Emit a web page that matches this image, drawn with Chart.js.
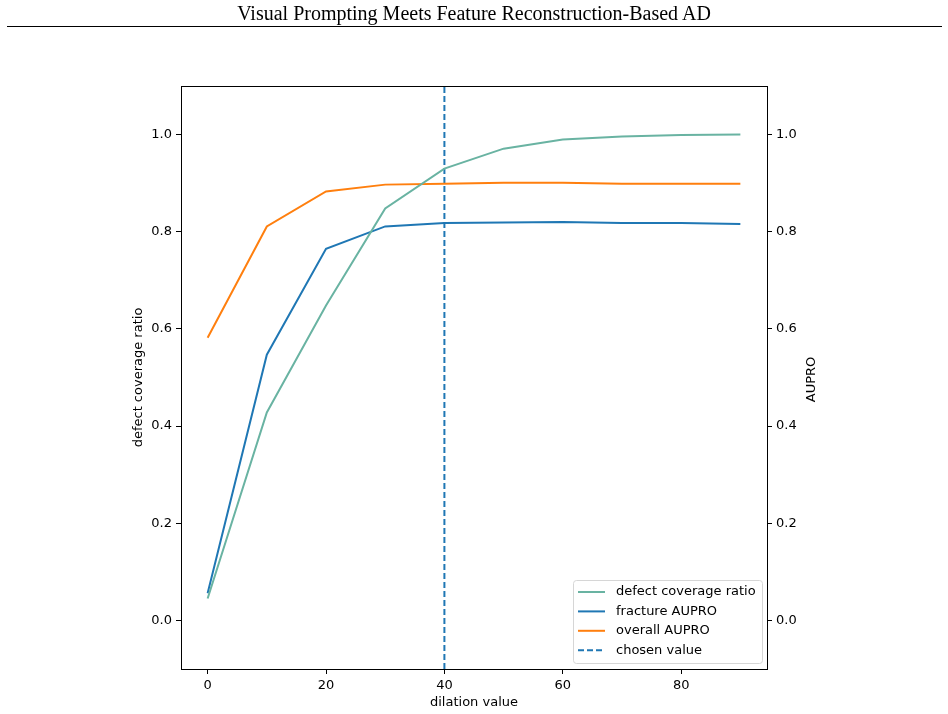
<!DOCTYPE html>
<html>
<head>
<meta charset="utf-8">
<script src="https://cdn.jsdelivr.net/npm/chart.js@4.4.1/dist/chart.umd.min.js"></script>
<style>
    html, body { margin: 0; padding: 0; background: #fff; }
    #wrap { position: relative; width: 948px; height: 714px; }
    #title {
        position: absolute; left: 0; top: 2px; width: 948px; text-align: center;
        font-family: "Liberation Serif", "Times New Roman", serif; font-size: 20px; color: #000;
    }
    #rule { position: absolute; left: 7px; top: 26px; width: 935px; height: 0; border-top: 1.5px solid #000; }
    #chart { position: absolute; left: 0; top: 0; }
</style>
</head>
<body>
<div id="wrap">
    <canvas id="chart" width="948" height="714"></canvas>
    <div id="title">Visual Prompting Meets Feature Reconstruction-Based AD</div>
    <div id="rule"></div>
</div>
<script>
    "use strict";

    // Data
    const dilation = [0, 10, 20, 30, 40, 50, 60, 70, 80, 90];
    const defectCoverage = [0.045, 0.428, 0.648, 0.848, 0.930, 0.971, 0.990, 0.996, 0.999, 1.000];
    const fractureAupro = [0.056, 0.547, 0.765, 0.811, 0.818, 0.819, 0.820, 0.818, 0.818, 0.816];
    const overallAupro = [0.582, 0.811, 0.883, 0.897, 0.899, 0.901, 0.901, 0.899, 0.899, 0.899];
    const chosenValue = 40;
    const xTicks = [0, 20, 40, 60, 80];
    const yTicks = [0, 0.2, 0.4, 0.6, 0.8, 1.0];

    const FONT = "'DejaVu Sans', sans-serif";
    const FSIZE = 13;

    function pts(ys) {
        return dilation.map((x, i) => ({ x: x, y: ys[i] }));
    }

    // box round the plot area + right axis label (reads bottom to top, like matplotlib)
    const frame = {
        id: 'frame',
        afterDatasetsDraw(chart) {
            const a = chart.chartArea, ctx = chart.ctx;
            ctx.save();
            ctx.strokeStyle = '#000';
            ctx.lineWidth = 1;
            ctx.strokeRect(a.left + 0.5, a.top + 0.5, a.right - a.left, a.bottom - a.top);
            ctx.translate(812, (a.top + a.bottom) / 2 + 2);
            ctx.rotate(-Math.PI / 2);
            ctx.font = FSIZE + 'px ' + FONT;
            ctx.fillStyle = '#000';
            ctx.textAlign = 'center';
            ctx.textBaseline = 'middle';
            ctx.fillText('AUPRO', 0, 0);
            ctx.restore();
        }
    };

    // matplotlib style legend, lower right
    const mplLegend = {
        id: 'mplLegend',
        afterDraw(chart) {
            const a = chart.chartArea, ctx = chart.ctx;
            const w = 189, h = 83;
            const x0 = a.right - 5 - w, y0 = a.bottom - 6 - h;
            ctx.save();
            ctx.beginPath();
            ctx.roundRect(x0 + 0.5, y0 + 0.5, w, h, 3);
            ctx.fillStyle = 'rgba(255,255,255,0.8)';
            ctx.fill();
            ctx.strokeStyle = '#d6d6d6';
            ctx.lineWidth = 1;
            ctx.stroke();
            ctx.font = FSIZE + 'px ' + FONT;
            ctx.textBaseline = 'middle';
            chart.data.datasets.forEach((ds, i) => {
                const y = y0 + 12 + i * 19.4;
                ctx.beginPath();
                ctx.setLineDash(ds.borderDash || []);
                ctx.strokeStyle = ds.borderColor;
                ctx.lineWidth = 2;
                ctx.moveTo(x0 + 5, y);
                ctx.lineTo(x0 + 32, y);
                ctx.stroke();
                ctx.setLineDash([]);
                ctx.fillStyle = '#000';
                ctx.fillText(ds.label, x0 + 43, y);
            });
            ctx.restore();
        }
    };

    function axisTicks(list) {
        return function (scale) {
            scale.ticks = list.map(v => ({ value: v }));
        };
    }

    const gridOpts = { drawOnChartArea: false, drawTicks: true, tickLength: 5, color: '#000' };
    const tickOpts = { color: '#000', font: { family: FONT, size: FSIZE }, padding: 4 };
    const titleFont = { family: FONT, size: FSIZE };

    new Chart(document.getElementById('chart'), {
        type: 'line',
        data: {
            datasets: [
                { label: 'defect coverage ratio', data: pts(defectCoverage), borderColor: '#69b3a2', yAxisID: 'y' },
                { label: 'fracture AUPRO', data: pts(fractureAupro), borderColor: '#1f77b4', yAxisID: 'y2' },
                { label: 'overall AUPRO', data: pts(overallAupro), borderColor: '#ff7f0e', yAxisID: 'y2' },
                {
                    label: 'chosen value', data: [{ x: chosenValue, y: -0.1 }, { x: chosenValue, y: 1.1 }],
                    borderColor: '#1f77b4', borderDash: [6, 3], yAxisID: 'y'
                }
            ]
        },
        options: {
            responsive: false,
            animation: false,
            layout: { padding: { left: 131, right: 121, top: 86, bottom: 4 } },
            elements: {
                point: { radius: 0, hoverRadius: 0 },
                line: { borderWidth: 2, tension: 0, fill: false }
            },
            plugins: { legend: { display: false }, tooltip: { enabled: false }, title: { display: false } },
            scales: {
                x: {
                    type: 'linear', min: -4.5, max: 94.5,
                    afterBuildTicks: axisTicks(xTicks),
                    afterFit(s) { s.height = 41; },
                    grid: gridOpts, border: { color: '#000' },
                    ticks: tickOpts,
                    title: { display: true, text: 'dilation value', color: '#000', font: titleFont, padding: 0 }
                },
                y: {
                    type: 'linear', position: 'left', min: -0.1, max: 1.1,
                    afterBuildTicks: axisTicks(yTicks),
                    afterFit(s) { s.width = 50; },
                    grid: gridOpts, border: { color: '#000' },
                    ticks: Object.assign({}, tickOpts, { callback: v => v.toFixed(1) }),
                    title: { display: true, text: 'defect coverage ratio', color: '#000', font: titleFont, padding: 0 }
                },
                y2: {
                    type: 'linear', position: 'right', min: -0.1, max: 1.1,
                    afterBuildTicks: axisTicks(yTicks),
                    afterFit(s) { s.width = 60; },
                    grid: gridOpts, border: { color: '#000' },
                    ticks: Object.assign({}, tickOpts, { callback: v => v.toFixed(1) }),
                    title: { display: false }
                }
            }
        },
        plugins: [frame, mplLegend]
    });
</script>
</body>
</html>
